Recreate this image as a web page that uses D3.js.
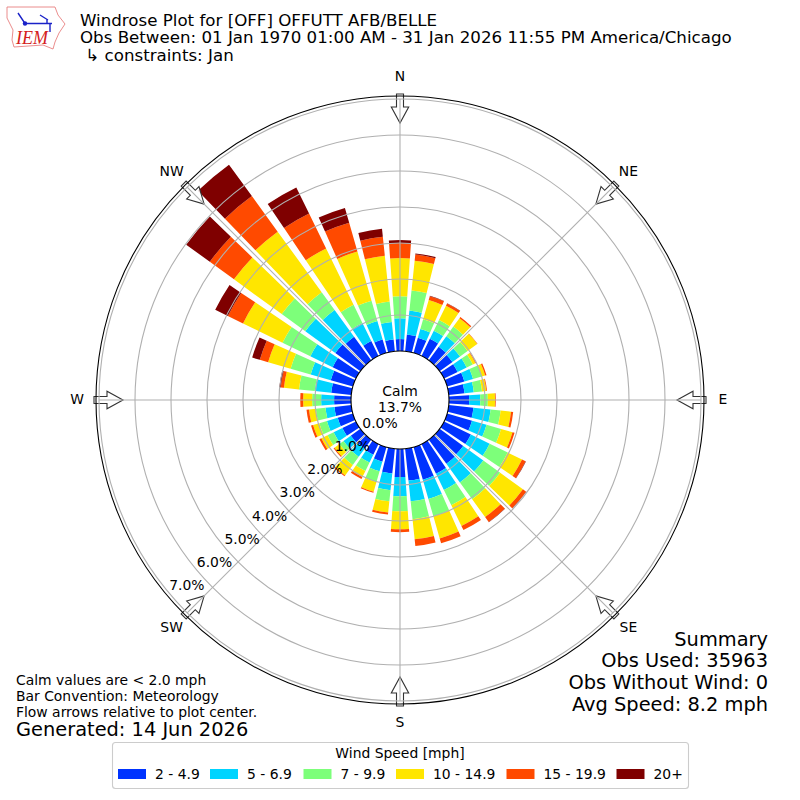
<!DOCTYPE html>
<html><head><meta charset="utf-8">
<script src="https://cdn.jsdelivr.net/npm/d3@7/dist/d3.min.js"></script>
<style>html,body{margin:0;padding:0;background:#fff}svg{display:block}text{font-family:"DejaVu Sans",sans-serif;fill:#000;white-space:pre}</style>
</head><body><svg id="c" width="800" height="800"></svg>
<script>
const directions = d3.range(0,360,10);
const speedLabels = ["2 - 4.9","5 - 6.9","7 - 9.9","10 - 14.9","15 - 19.9","20+"];
const speedColors = ["#0033ff","#00d4ff","#7dff7a","#ffe600","#ff4a00","#7f0000"];
const s2to5   = [.33,.47,.44,.53,.47,.44,.42,.50,.44,.56,.69,.72,.83,.81,.83,.92,.94,.89,.78,.69,.42,.33,.31,.33,.42,.44,.47,.47,.56,.64,.72,.86,.81,.46,.39,.33];
const s5to7   = [.58,.67,.25,.25,.36,.26,.28,.25,.26,.31,.48,.42,.58,.69,.64,.50,.56,.58,.53,.47,.28,.24,.28,.25,.27,.31,.25,.36,.46,.58,.69,1.03,.92,.56,.53,.49];
const s7to10  = [.61,.56,.28,.33,.33,.26,.19,.25,.23,.21,.28,.42,.56,.58,.58,.47,.50,.50,.42,.31,.31,.26,.28,.14,.19,.22,.27,.25,.44,.58,.86,.81,.61,.56,.59,.57];
const s10to15 = [1.06,.83,.56,.44,.29,.33,.08,.10,.12,.20,.29,.33,.44,.78,.61,.64,.64,.56,.50,.31,.28,.19,.36,.17,.19,.18,.19,.25,.42,.65,1.22,1.64,2.08,1.74,1.42,1.28];
const s15to20 = [.42,.17,.11,.07,.04,.01,.02,.04,.02,.02,.06,.06,.11,.11,.17,.13,.14,.19,.08,.06,.03,.06,.03,.03,.06,.06,.07,.08,.09,.24,.47,.83,1.22,1.08,.83,.53];
const s20plus = [.08,.03,.01,.01,0,0,0,0,0,0,0,0,.01,.01,.01,0,0,0,0,0,0,0,0,0,0,0,0,0,.04,.22,.39,.81,1.08,.81,.43,.22];
const seriesValues = [s2to5,s5to7,s7to10,s10to15,s15to20,s20plus];
const ringTicks = [0,1,2,3,4,5,6,7];
const compass = [["N",0],["NE",45],["E",90],["SE",135],["S",180],["SW",225],["W",270],["NW",315]];
const titleLines = ["Windrose Plot for [OFF] OFFUTT AFB/BELLE","Obs Between: 01 Jan 1970 01:00 AM - 31 Jan 2026 11:55 PM America/Chicago"," \u21B3 constraints: Jan"];
const summaryLines = ["Summary","Obs Used: 35963","Obs Without Wind: 0","Avg Speed: 8.2 mph"];
const noteLines = ["Calm values are < 2.0 mph","Bar Convention: Meteorology","Flow arrows relative to plot center."];

const svg = d3.select("#c");
const cx=400, cy=400;
const r = d3.scaleLinear().domain([0,7]).range([49,301]);
const ang = d3.scaleLinear().domain([0,360]).range([0,2*Math.PI]);
const halfW = 4;
const rows = directions.map((d,i)=>{const o={dir:d};seriesValues.forEach((s,k)=>o[k]=s[i]);return o;});
const stacked = d3.stack().keys(seriesValues.map((_,k)=>k))(rows);
const plot = svg.append("g").attr("transform",`translate(${cx},${cy})`);
const arc = d3.arc();

stacked.forEach((layer,k)=>{
  plot.append("g").selectAll("path").data(layer).join("path")
    .attr("fill",speedColors[k])
    .attr("d",d=>arc({innerRadius:r(d[0]),outerRadius:r(d[1]),
       startAngle:ang(d.data.dir-halfW),endAngle:ang(d.data.dir+halfW)}));
});

// flow arrows
const arrow = "M-3.5,-306L3.5,-306L3.5,-293L8.7,-293L0,-277L-8.7,-293L-3.5,-293Z";
plot.append("g").selectAll("path").data(compass).join("path")
  .attr("d",arrow).attr("transform",d=>`rotate(${d[1]})`)
  .attr("fill","#fff").attr("fill-opacity",.85).attr("stroke","#333").attr("stroke-width",1.1);

// grid
plot.append("g").selectAll("line").data(compass).join("line")
  .attr("x1",d=>r(0)*Math.sin(ang(d[1]))).attr("y1",d=>-r(0)*Math.cos(ang(d[1])))
  .attr("x2",d=>r(7)*Math.sin(ang(d[1]))).attr("y2",d=>-r(7)*Math.cos(ang(d[1])))
  .attr("stroke","#b0b0b0").attr("stroke-width",1.1);
plot.append("g").selectAll("circle").data(ringTicks.slice(1)).join("circle")
  .attr("r",d=>r(d)).attr("fill","none").attr("stroke","#b0b0b0").attr("stroke-width",1.1);
plot.append("circle").attr("r",r(0)).attr("fill","#fff").attr("stroke","#000").attr("stroke-width",1.1);
plot.append("circle").attr("r",304).attr("fill","none").attr("stroke","#000").attr("stroke-width",1.1);

// compass labels
plot.append("g").selectAll("text").data(compass).join("text")
  .attr("x",d=>323*Math.sin(ang(d[1])))
  .attr("y",d=>-323*Math.cos(ang(d[1]))-1)
  .attr("text-anchor","middle").attr("dominant-baseline","central").attr("font-size",13.9).text(d=>d[0]);

// ring labels
const labAng = ang(230);
plot.append("g").selectAll("text").data(ringTicks).join("text")
  .attr("x",d=>r(d)*Math.sin(labAng)+17.5)
  .attr("y",d=>-r(d)*Math.cos(labAng)-8.5)
  .attr("text-anchor","middle").attr("dominant-baseline","central").attr("font-size",13.9).text(d=>d.toFixed(1)+"%");

svg.append("text").attr("x",400).attr("y",396).attr("text-anchor","middle").attr("font-size",13.9).text("Calm");
svg.append("text").attr("x",400).attr("y",412).attr("text-anchor","middle").attr("font-size",13.9).text("13.7%");

// title
[26,43,61].forEach((y,i)=>svg.append("text").attr("x",80).attr("y",y).attr("font-size",16.67).text(titleLines[i]));

// summary
[646,667,689,711].forEach((y,i)=>svg.append("text").attr("x",768).attr("y",y).attr("text-anchor","end").attr("font-size",19.4).text(summaryLines[i]));

// notes
[685,701,717].forEach((y,i)=>svg.append("text").attr("x",16).attr("y",y).attr("font-size",13.9).text(noteLines[i]));
svg.append("text").attr("x",16).attr("y",736).attr("font-size",19.4).text("Generated: 14 Jun 2026");

// legend
const lg = svg.append("g");
lg.append("rect").attr("x",112.5).attr("y",742.5).attr("width",576).attr("height",46).attr("rx",3)
  .attr("fill","#fff").attr("stroke","#ccc").attr("stroke-width",1.1);
lg.append("text").attr("x",400).attr("y",758).attr("text-anchor","middle").attr("font-size",13.9).text("Wind Speed [mph]");
const swatchX = [118,210,303.5,396,506.5,616.5];
speedLabels.forEach((t,i)=>{
  lg.append("rect").attr("x",swatchX[i]).attr("y",769).attr("width",28).attr("height",10).attr("fill",speedColors[i]);
  lg.append("text").attr("x",swatchX[i]+37).attr("y",779).attr("font-size",13.9).text(t);
});

// IEM logo
const logo = svg.append("g");
logo.append("path").attr("d","M7,7L55,7L58,15L65,24L59,33L55,42L53,49L43,45L14,47L12,40L13,30L7,18Z")
  .attr("fill","#fff").attr("stroke","#e88080").attr("stroke-width",.9);
logo.append("path").attr("d","M25,23.5L52,23.5M47,19L47,24M25,23.5L18,13M40,15L48,20M50,24L50,32")
  .attr("fill","none").attr("stroke","#1a22c8").attr("stroke-width",1.4);
logo.append("circle").attr("cx",25).attr("cy",23.5).attr("r",2.2).attr("fill","#1a22c8");
logo.append("text").attr("x",16).attr("y",44).attr("font-size",18).attr("font-style","italic")
  .attr("style","font-family:'Liberation Serif';fill:#d42020").text("IEM");
</script></body></html>
